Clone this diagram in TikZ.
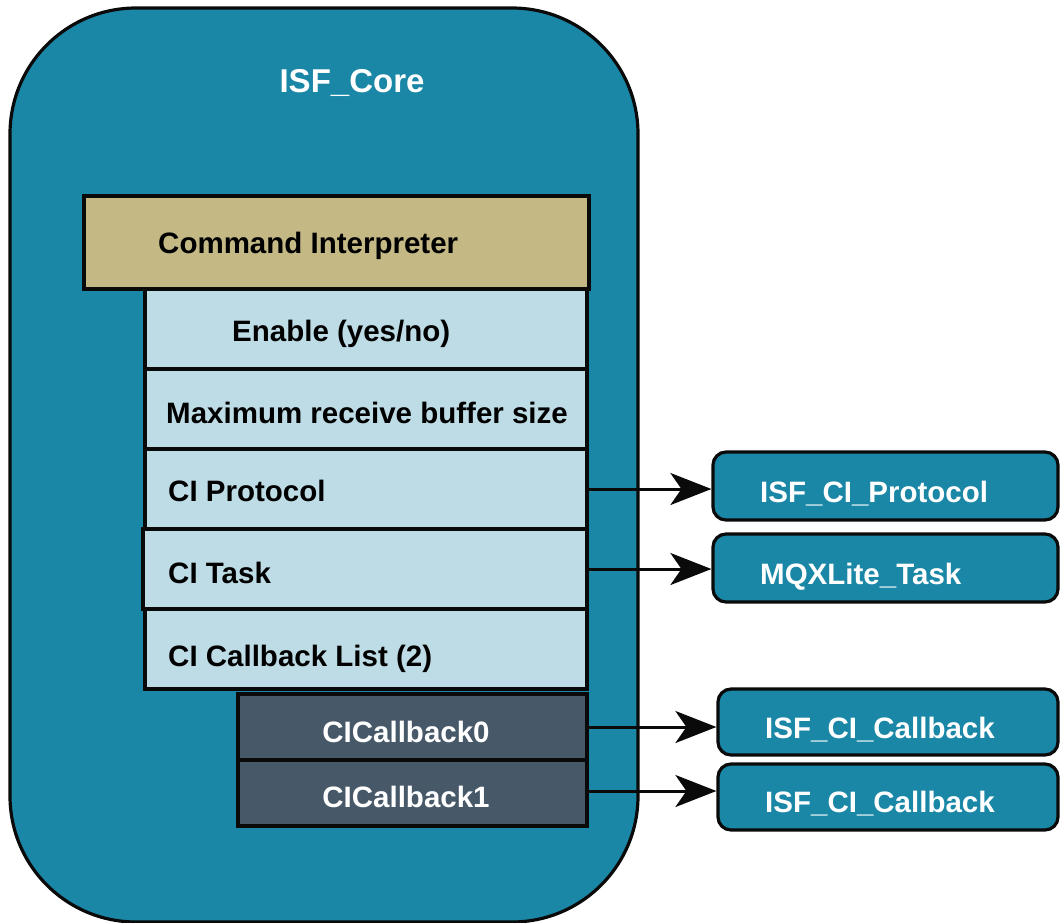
\documentclass[tikz,border=0pt]{standalone}
\usepackage{fontspec}
\setmainfont{Liberation Sans}
\usetikzlibrary{arrows.meta}
\definecolor{coreteal}{HTML}{1A87A6}
\definecolor{celllight}{HTML}{BEDCE6}
\definecolor{celltan}{HTML}{C4B885}
\definecolor{cellslate}{HTML}{475869}
\definecolor{edge}{HTML}{0A0A0A}
\tikzset{
  box/.style={draw=edge, line width=3.2pt, inner sep=0pt, rectangle},
  cell/.style={box, fill=celllight},
  head/.style={box, fill=celltan},
  sub/.style={box, fill=cellslate},
  target/.style={box, fill=coreteal, rounded corners=13pt},
  txt/.style={font=\bfseries\fontsize{29.5}{35}\selectfont, text=black, inner sep=0pt, anchor=base west},
  wtxt/.style={txt, text=white},
  link/.style={draw=edge, line width=3pt, -{Stealth[length=41pt,width=32pt,inset=11pt]}}
}
\begin{document}
\begin{tikzpicture}[x=1pt,y=-1pt]
\useasboundingbox (0,0) rectangle (1060,922);

% outer component
\node[box, fill=coreteal, rounded corners=126pt, minimum width=628pt, minimum height=914pt] (core) at (324,465) {};
\node[wtxt, font=\bfseries\fontsize{33}{38}\selectfont, anchor=base] (coretitle) at (352,92) {ISF\_Core};

% command interpreter table
\node[head, minimum width=505pt, minimum height=93pt] (ci) at (336.5,242.5) {};
\node[txt] (cit) at (158,253) {Command Interpreter};

\node[cell, minimum width=442pt, minimum height=80pt] (enable) at (366,329) {};
\node[txt] (enablet) at (232,341) {Enable (yes/no)};

\node[cell, minimum width=442pt, minimum height=80pt] (maxbuf) at (366,409) {};
\node[txt] (maxbuft) at (166,423) {Maximum receive buffer size};

\node[cell, minimum width=442pt, minimum height=80pt] (proto) at (366,489) {};
\node[txt] (protot) at (168,501) {CI Protocol};

\node[cell, minimum width=444pt, minimum height=80pt] (task) at (365,569) {};
\node[txt] (taskt) at (168,583) {CI Task};

\node[cell, minimum width=442pt, minimum height=80pt] (cblist) at (366,649) {};
\node[txt] (cblistt) at (168,666) {CI Callback List (2)};

\node[sub, minimum width=349pt, minimum height=66pt] (cb0) at (412.5,727) {};
\node[wtxt, anchor=base] (cb0t) at (406,742) {CICallback0};

\node[sub, minimum width=349pt, minimum height=66pt] (cb1) at (412.5,793) {};
\node[wtxt, anchor=base] (cb1t) at (406,807) {CICallback1};

% external references
\node[target, minimum width=345pt, minimum height=68pt] (isfproto) at (885.5,486) {};
\node[wtxt] (isfprotot) at (760,502) {ISF\_CI\_Protocol};

\node[target, minimum width=345pt, minimum height=68pt] (mqx) at (885.5,568) {};
\node[wtxt] (mqxt) at (760,584) {MQXLite\_Task};

\node[target, minimum width=340pt, minimum height=66pt] (isfcb0) at (888,722) {};
\node[wtxt] (isfcb0t) at (765,738) {ISF\_CI\_Callback};

\node[target, minimum width=340pt, minimum height=66pt] (isfcb1) at (888,797) {};
\node[wtxt] (isfcb1t) at (765,812) {ISF\_CI\_Callback};

% references
\draw[link] (proto.east) -- (proto.east -| isfproto.west);
\draw[link] (task.east) -- (task.east -| mqx.west);
\draw[link] (cb0.east) -- (cb0.east -| isfcb0.west);
\draw[link] ([yshift=2pt]cb1.east) -- ([yshift=2pt]cb1.east -| isfcb1.west);
\end{tikzpicture}
\end{document}
